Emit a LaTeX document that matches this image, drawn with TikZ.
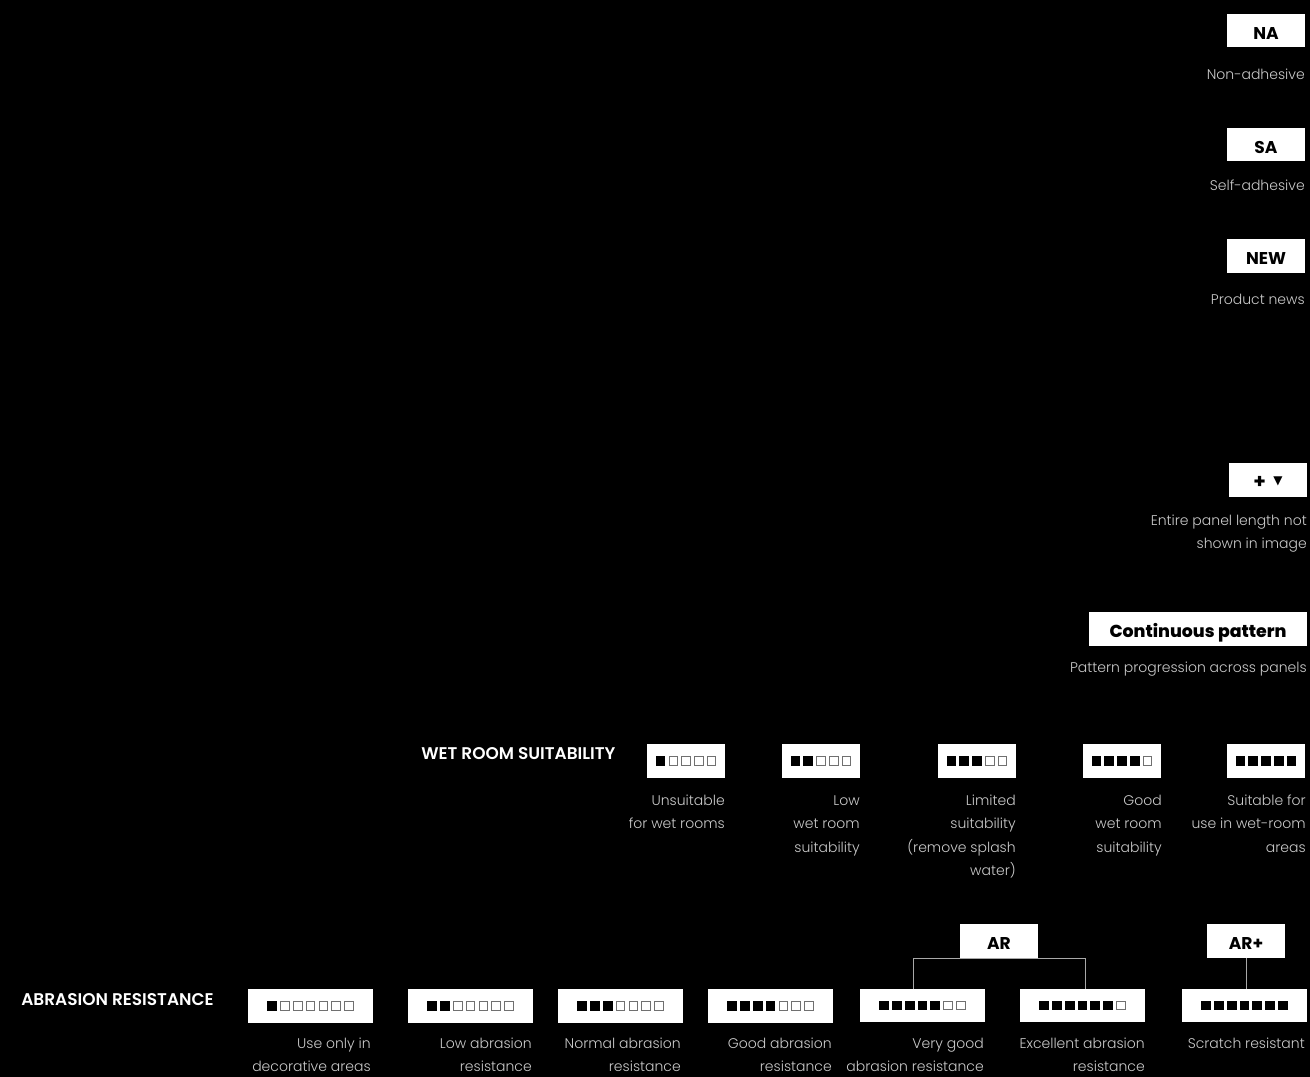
\documentclass[tikz,border=0pt]{standalone}
\usepackage{fontspec}
\setmainfont{Poppins Light}[BoldFont={Poppins SemiBold}]
\newfontfamily\tagfont{Poppins Bold}
\newfontfamily\contfont{Poppins ExtraBold}
\newfontfamily\symfont{DejaVu Sans}
\newcommand{\dn}[1]{\raisebox{-6.4pt}[0pt][0pt]{#1}}
\tikzset{
  x=0.75pt,y=-0.75pt,
  tag/.style={fill=white,inner sep=0pt,minimum height=25.2pt,font=\fontsize{12.8pt}{14pt}\selectfont\tagfont,text=black},
  tagS/.style={tag,minimum width=58.5pt},
  tagL/.style={tag,minimum width=93.75pt},
  desc/.style={anchor=north east,align=right,inner sep=0pt,text=descgray,font=\fontsize{10.5pt}{17.6pt}\selectfont},
  head/.style={anchor=base west,inner sep=0pt,text=white,font=\fontsize{12.7pt}{14pt}\selectfont\bfseries},
  link/.style={draw=linkgray,line width=0.75pt},
  on/.style={fill=black},
  off/.style={draw=offgray,line width=0.6pt,fill=white}
}
\definecolor{descgray}{HTML}{CACACA}
\definecolor{linkgray}{HTML}{A8A8A8}
\definecolor{offgray}{HTML}{707070}
\newcommand{\meter}[3]{%
  \foreach \i in {1,...,#3}{%
    \pgfmathsetmacro{\dx}{(\i-(#3+1)/2)*12.75}
    \ifnum\i>#2\relax
      \path[off] ([xshift=\dx*0.75pt-3.2pt,yshift=-3.2pt]#1.center) rectangle ([xshift=\dx*0.75pt+3.2pt,yshift=3.2pt]#1.center);
    \else
      \path[on] ([xshift=\dx*0.75pt-3.6pt,yshift=-3.6pt]#1.center) rectangle ([xshift=\dx*0.75pt+3.6pt,yshift=3.6pt]#1.center);
    \fi
  }}
\begin{document}
\begin{tikzpicture}
\useasboundingbox[fill=black] (0,0) rectangle (1310,1077);
% top legend
\node[tagS] (na) at (1266,30.5) {\dn{NA}};
\node[desc] (nat) at (1305,62.5) {\strut Non-adhesive};
\node[tagS] (sa) at (1266,144.5) {\dn{SA}};
\node[desc] (sat) at (1305,173.5) {\strut Self-adhesive};
\node[tagS] (new) at (1266,256) {\dn{NEW}};
\node[desc] (newt) at (1305,287.5) {\strut Product news};
\node[tagS] (plus) at (1268,480) {\dn{\fontsize{15pt}{15pt}\selectfont +\hspace{5.5pt}{\symfont\fontsize{9pt}{10pt}\selectfont\raisebox{3.4pt}{▼}}}};
\node[desc] (plust) at (1307,508.5) {\strut Entire panel length not\\shown in image};
\node[tag,minimum width=163.5pt] (cont) at (1198,629) {\dn{\fontsize{13pt}{14pt}\selectfont\contfont Continuous pattern}};
\node[desc] (contt) at (1307,655.5) {\strut Pattern progression across panels};
% wet room
\node[head] (wethead) at (421,759) {WET ROOM SUITABILITY};
\node[tagS] (w1) at (686,761) {}; \meter{w1}{1}{5}
\node[tagS] (w2) at (821,761) {}; \meter{w2}{2}{5}
\node[tagS] (w3) at (977,761) {}; \meter{w3}{3}{5}
\node[tagS] (w4) at (1122,761) {}; \meter{w4}{4}{5}
\node[tagS] (w5) at (1266,761) {}; \meter{w5}{5}{5}
\node[desc] (w1t) at (725,788.5) {\strut Unsuitable\\for wet rooms};
\node[desc] (w2t) at (860,788.5) {\strut Low\\wet room\\suitability};
\node[desc] (w3t) at (1016,788.5) {\strut Limited\\suitability\\(remove splash\\water)};
\node[desc] (w4t) at (1162,788.5) {\strut Good\\wet room\\suitability};
\node[desc] (w5t) at (1306,788.5) {\strut Suitable for\\use in wet-room\\areas};
% abrasion
\node[head] (abhead) at (21,1005) {ABRASION RESISTANCE};
\node[tagL] (a1) at (310.5,1006) {}; \meter{a1}{1}{7}
\node[tagL] (a2) at (470.5,1006) {}; \meter{a2}{2}{7}
\node[tagL] (a3) at (620.5,1006) {}; \meter{a3}{3}{7}
\node[tagL] (a4) at (770.5,1006) {}; \meter{a4}{4}{7}
\node[tagL] (a5) at (922.5,1005.5) {}; \meter{a5}{5}{7}
\node[tagL] (a6) at (1082.5,1005.5) {}; \meter{a6}{6}{7}
\node[tagL] (a7) at (1244.5,1005.5) {}; \meter{a7}{7}{7}
\node[desc] (a1t) at (371,1031.5) {\strut Use only in\\decorative areas};
\node[desc] (a2t) at (532,1031.5) {\strut Low abrasion\\resistance};
\node[desc] (a3t) at (681,1031.5) {\strut Normal abrasion\\resistance};
\node[desc] (a4t) at (832,1031.5) {\strut Good abrasion\\resistance};
\node[desc] (a5t) at (984,1031.5) {\strut Very good\\abrasion resistance};
\node[desc] (a6t) at (1145,1031.5) {\strut Excellent abrasion\\resistance};
\node[desc] (a7t) at (1305,1031.5) {\strut Scratch resistant};
% AR groups
\node[tagS] (ar) at (999,941) {\dn{AR}};
\node[tagS] (arp) at (1246,941) {\dn{AR+}};
\coordinate (c5) at (913,989);
\coordinate (c6) at (1085,989);
\coordinate (c7) at (1246,989);
\draw[link] (c5) |- (ar.south west);
\draw[link] (ar.south west) -- (ar.south east);
\draw[link] (ar.south east) -| (c6);
\draw[link] (arp.south) -- (c7);
\end{tikzpicture}
\end{document}
